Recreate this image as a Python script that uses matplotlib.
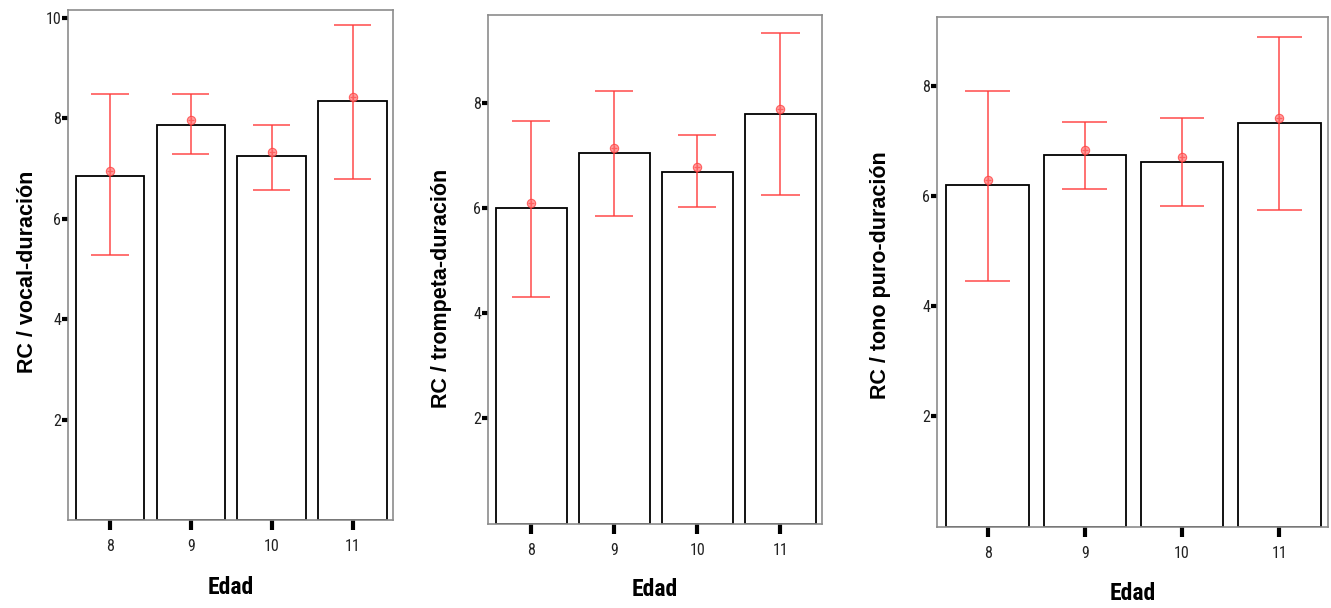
import matplotlib
matplotlib.use("Agg")
import matplotlib.pyplot as plt
from matplotlib import font_manager
import numpy as np

# age groups on the x axis
edad = ['8', '9', '10', '11']

# RC / vocal-duración
vocal_bar = [6.85, 7.87, 7.25, 8.34]
vocal_mean = [6.95, 7.97, 7.33, 8.42]
vocal_lo = [5.27, 7.28, 6.57, 6.78]
vocal_hi = [8.47, 8.47, 7.87, 9.85]

# RC / trompeta-duración
trompeta_bar = [6.00, 7.05, 6.68, 7.78]
trompeta_mean = [6.09, 7.14, 6.78, 7.88]
trompeta_lo = [4.31, 5.84, 6.01, 6.25]
trompeta_hi = [7.65, 8.23, 7.39, 9.33]

# RC / tono puro-duración
tono_bar = [6.20, 6.74, 6.62, 7.32]
tono_mean = [6.29, 6.84, 6.71, 7.42]
tono_lo = [4.46, 6.13, 5.81, 5.75]
tono_hi = [7.90, 7.35, 7.42, 8.89]

ylabels = ['RC / vocal-duración', 'RC / trompeta-duración', 'RC / tono puro-duración']
yticks = [[2, 4, 6, 8, 10], [2, 4, 6, 8], [2, 4, 6, 8]]

W, H = 1331, 608
# left, top, right, bottom in pixels
boxes = [(68, 10, 393, 520), (488, 15, 822, 523.5), (937, 17, 1328, 526.5)]
ymaxs = [10.15, 9.67, 9.25]
ylab_x = [28, 441, 881]
ylab_y = [272, 288, 275]
xlab_y = [587, 590, 594]

# pick a condensed face if one is around
installed = {f.name for f in font_manager.fontManager.ttflist}
narrow = [n for n in ['Liberation Sans Narrow', 'DejaVu Sans Condensed', 'Roboto Condensed',
                      'Open Sans Condensed', 'Liberation Sans'] if n in installed] + ['DejaVu Sans']
red = '#ff3b3b'

fig = plt.figure(figsize=(W / 100, H / 100), dpi=100)

series = [
    (vocal_bar, vocal_mean, vocal_lo, vocal_hi),
    (trompeta_bar, trompeta_mean, trompeta_lo, trompeta_hi),
    (tono_bar, tono_mean, tono_lo, tono_hi),
]

for i, (bars, means, lo, hi) in enumerate(series):
    l, t, r, b = boxes[i]
    ax = fig.add_axes([l / W, 1 - b / H, (r - l) / W, (b - t) / H])
    x = np.arange(len(edad))

    ax.bar(x, bars, width=0.85, color='white', edgecolor='black', linewidth=1.3, zorder=2)

    # confidence interval around the mean
    ax.vlines(x, lo, hi, color=red, linewidth=1.2, alpha=0.85, zorder=3)
    ax.hlines(lo, x - 0.23, x + 0.23, color=red, linewidth=1.2, alpha=0.85, zorder=3)
    ax.hlines(hi, x - 0.23, x + 0.23, color=red, linewidth=1.2, alpha=0.85, zorder=3)
    ax.plot(x, means, 'o', ms=6, markerfacecolor='#ff8080', markeredgecolor=red,
            markeredgewidth=0.8, alpha=0.75, zorder=4)
    ax.plot(x, means, '+', ms=5, color='#ff6060', markeredgewidth=0.9, zorder=5)

    ax.set_xlim(-0.52, 3.5)
    ax.set_ylim(0, ymaxs[i])
    ax.set_xticks(x)
    ax.set_xticklabels(edad, family=narrow, fontsize=11.5, color='#222222')
    ax.set_yticks(yticks[i])
    ax.set_yticklabels([str(v) for v in yticks[i]], family=narrow, fontsize=11.5, color='#222222')
    ax.tick_params(axis='y', length=4, width=3, pad=1, color='black')
    ax.tick_params(axis='x', length=7, width=3, pad=7, color='black')

    for s in ax.spines.values():
        s.set_color('#8c8c8c')
        s.set_linewidth(1.2)

    fig.text(ylab_x[i] / W, 1 - ylab_y[i] / H, ylabels[i], rotation=90,
             ha='center', va='center', fontsize=15.5, fontweight='bold',
             family=['Liberation Sans', 'DejaVu Sans'])
    fig.text(((l + r) / 2) / W, 1 - xlab_y[i] / H, 'Edad', ha='center', va='center',
             fontsize=17, fontweight='bold', family=narrow)

fig.savefig('out.png', dpi=100)
